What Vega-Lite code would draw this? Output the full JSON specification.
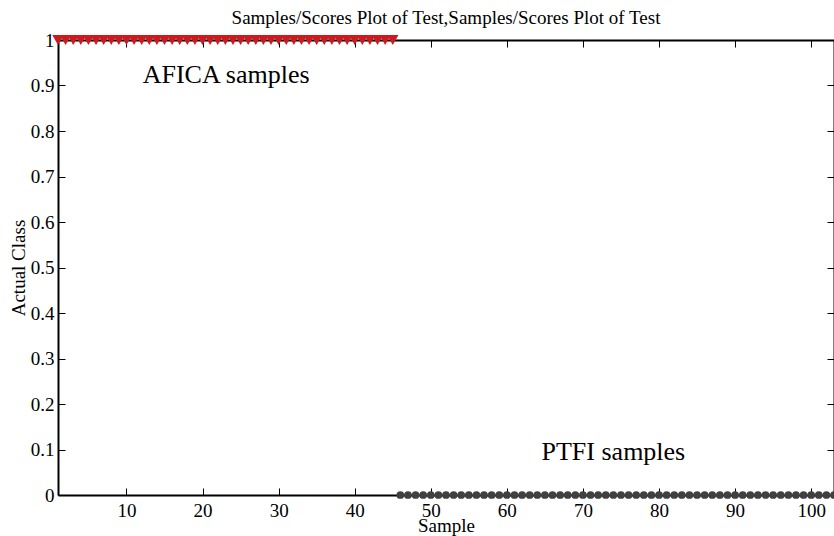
{
  "$schema": "https://vega.github.io/schema/vega-lite/v6.json",
  "width": 776,
  "height": 455,
  "autosize": "none",
  "padding": {"left": 58, "top": 40, "right": 0, "bottom": 41},
  "background": "white",
  "config": {
    "font": "Liberation Serif",
    "view": {"stroke": null},
    "axis": {"domainColor": "black", "domainWidth": 2, "tickColor": "black", "grid": false, "labelFont": "Liberation Serif", "titleFont": "Liberation Serif", "labelColor": "black", "titleColor": "black", "labelFontSize": 19, "titleFontSize": 19, "titleFontWeight": "normal", "tickSize": -7, "tickWidth": 1}
  },
  "title": {"text": "Samples/Scores Plot of Test,Samples/Scores Plot of Test", "font": "Liberation Serif", "fontSize": 19, "fontWeight": "normal", "color": "black", "offset": 3, "anchor": "middle"},
  "datasets": {
    "pts": [
      {"sample": 1, "cls": 1, "group": "AFICA"}, {"sample": 2, "cls": 1, "group": "AFICA"}, {"sample": 3, "cls": 1, "group": "AFICA"}, {"sample": 4, "cls": 1, "group": "AFICA"}, {"sample": 5, "cls": 1, "group": "AFICA"},
      {"sample": 6, "cls": 1, "group": "AFICA"}, {"sample": 7, "cls": 1, "group": "AFICA"}, {"sample": 8, "cls": 1, "group": "AFICA"}, {"sample": 9, "cls": 1, "group": "AFICA"}, {"sample": 10, "cls": 1, "group": "AFICA"},
      {"sample": 11, "cls": 1, "group": "AFICA"}, {"sample": 12, "cls": 1, "group": "AFICA"}, {"sample": 13, "cls": 1, "group": "AFICA"}, {"sample": 14, "cls": 1, "group": "AFICA"}, {"sample": 15, "cls": 1, "group": "AFICA"},
      {"sample": 16, "cls": 1, "group": "AFICA"}, {"sample": 17, "cls": 1, "group": "AFICA"}, {"sample": 18, "cls": 1, "group": "AFICA"}, {"sample": 19, "cls": 1, "group": "AFICA"}, {"sample": 20, "cls": 1, "group": "AFICA"},
      {"sample": 21, "cls": 1, "group": "AFICA"}, {"sample": 22, "cls": 1, "group": "AFICA"}, {"sample": 23, "cls": 1, "group": "AFICA"}, {"sample": 24, "cls": 1, "group": "AFICA"}, {"sample": 25, "cls": 1, "group": "AFICA"},
      {"sample": 26, "cls": 1, "group": "AFICA"}, {"sample": 27, "cls": 1, "group": "AFICA"}, {"sample": 28, "cls": 1, "group": "AFICA"}, {"sample": 29, "cls": 1, "group": "AFICA"}, {"sample": 30, "cls": 1, "group": "AFICA"},
      {"sample": 31, "cls": 1, "group": "AFICA"}, {"sample": 32, "cls": 1, "group": "AFICA"}, {"sample": 33, "cls": 1, "group": "AFICA"}, {"sample": 34, "cls": 1, "group": "AFICA"}, {"sample": 35, "cls": 1, "group": "AFICA"},
      {"sample": 36, "cls": 1, "group": "AFICA"}, {"sample": 37, "cls": 1, "group": "AFICA"}, {"sample": 38, "cls": 1, "group": "AFICA"}, {"sample": 39, "cls": 1, "group": "AFICA"}, {"sample": 40, "cls": 1, "group": "AFICA"},
      {"sample": 41, "cls": 1, "group": "AFICA"}, {"sample": 42, "cls": 1, "group": "AFICA"}, {"sample": 43, "cls": 1, "group": "AFICA"}, {"sample": 44, "cls": 1, "group": "AFICA"}, {"sample": 45, "cls": 1, "group": "AFICA"},
      {"sample": 46, "cls": 0, "group": "PTFI"}, {"sample": 47, "cls": 0, "group": "PTFI"}, {"sample": 48, "cls": 0, "group": "PTFI"}, {"sample": 49, "cls": 0, "group": "PTFI"}, {"sample": 50, "cls": 0, "group": "PTFI"},
      {"sample": 51, "cls": 0, "group": "PTFI"}, {"sample": 52, "cls": 0, "group": "PTFI"}, {"sample": 53, "cls": 0, "group": "PTFI"}, {"sample": 54, "cls": 0, "group": "PTFI"}, {"sample": 55, "cls": 0, "group": "PTFI"},
      {"sample": 56, "cls": 0, "group": "PTFI"}, {"sample": 57, "cls": 0, "group": "PTFI"}, {"sample": 58, "cls": 0, "group": "PTFI"}, {"sample": 59, "cls": 0, "group": "PTFI"}, {"sample": 60, "cls": 0, "group": "PTFI"},
      {"sample": 61, "cls": 0, "group": "PTFI"}, {"sample": 62, "cls": 0, "group": "PTFI"}, {"sample": 63, "cls": 0, "group": "PTFI"}, {"sample": 64, "cls": 0, "group": "PTFI"}, {"sample": 65, "cls": 0, "group": "PTFI"},
      {"sample": 66, "cls": 0, "group": "PTFI"}, {"sample": 67, "cls": 0, "group": "PTFI"}, {"sample": 68, "cls": 0, "group": "PTFI"}, {"sample": 69, "cls": 0, "group": "PTFI"}, {"sample": 70, "cls": 0, "group": "PTFI"},
      {"sample": 71, "cls": 0, "group": "PTFI"}, {"sample": 72, "cls": 0, "group": "PTFI"}, {"sample": 73, "cls": 0, "group": "PTFI"}, {"sample": 74, "cls": 0, "group": "PTFI"}, {"sample": 75, "cls": 0, "group": "PTFI"},
      {"sample": 76, "cls": 0, "group": "PTFI"}, {"sample": 77, "cls": 0, "group": "PTFI"}, {"sample": 78, "cls": 0, "group": "PTFI"}, {"sample": 79, "cls": 0, "group": "PTFI"}, {"sample": 80, "cls": 0, "group": "PTFI"},
      {"sample": 81, "cls": 0, "group": "PTFI"}, {"sample": 82, "cls": 0, "group": "PTFI"}, {"sample": 83, "cls": 0, "group": "PTFI"}, {"sample": 84, "cls": 0, "group": "PTFI"}, {"sample": 85, "cls": 0, "group": "PTFI"},
      {"sample": 86, "cls": 0, "group": "PTFI"}, {"sample": 87, "cls": 0, "group": "PTFI"}, {"sample": 88, "cls": 0, "group": "PTFI"}, {"sample": 89, "cls": 0, "group": "PTFI"}, {"sample": 90, "cls": 0, "group": "PTFI"},
      {"sample": 91, "cls": 0, "group": "PTFI"}, {"sample": 92, "cls": 0, "group": "PTFI"}, {"sample": 93, "cls": 0, "group": "PTFI"}, {"sample": 94, "cls": 0, "group": "PTFI"}, {"sample": 95, "cls": 0, "group": "PTFI"},
      {"sample": 96, "cls": 0, "group": "PTFI"}, {"sample": 97, "cls": 0, "group": "PTFI"}, {"sample": 98, "cls": 0, "group": "PTFI"}, {"sample": 99, "cls": 0, "group": "PTFI"}, {"sample": 100, "cls": 0, "group": "PTFI"},
      {"sample": 101, "cls": 0, "group": "PTFI"}, {"sample": 102, "cls": 0, "group": "PTFI"}, {"sample": 103, "cls": 0, "group": "PTFI"}
    ],
    "notes": [
      {"sample": 23.1, "cls": 0.923, "label": "AFICA samples", "size": 26},
      {"sample": 74, "cls": 0.094, "label": "PTFI samples", "size": 26}
    ]
  },
  "resolve": {"axis": {"x": "independent", "y": "independent"}},
  "layer": [
    {
      "data": {"name": "pts"},
      "transform": [{"filter": "datum.group === 'PTFI'"}],
      "mark": {"type": "point", "shape": "circle", "filled": true, "size": 60, "color": "#404040", "opacity": 1, "clip": false},
      "encoding": {
        "x": {"field": "sample", "type": "quantitative", "scale": {"domain": [1, 103], "nice": false, "zero": false},
          "axis": {"orient": "bottom", "values": [10, 20, 30, 40, 50, 60, 70, 80, 90, 100], "title": "Sample", "labelPadding": 13, "titlePadding": -4, "labelFlush": false, "zindex": 0}},
        "y": {"field": "cls", "type": "quantitative", "scale": {"domain": [0, 1], "nice": false},
          "axis": {"orient": "left", "values": [0, 0.1, 0.2, 0.3, 0.4, 0.5, 0.6, 0.7, 0.8, 0.9, 1], "format": ".1~f", "title": "Actual Class", "labelPadding": 11, "titlePadding": 2, "labelFlush": false, "zindex": 0}}
      }
    },
    {
      "data": {"name": "pts"},
      "transform": [{"filter": "datum.group === 'AFICA'"}],
      "mark": {"type": "point", "shape": "triangle-down", "filled": true, "size": 130, "color": "#cc1a1f", "opacity": 1, "clip": false},
      "encoding": {
        "x": {"field": "sample", "type": "quantitative", "scale": {"domain": [1, 103], "nice": false, "zero": false},
          "axis": {"orient": "top", "values": [10, 20, 30, 40, 50, 60, 70, 80, 90, 100], "labels": false, "title": null, "zindex": 0}},
        "y": {"field": "cls", "type": "quantitative", "scale": {"domain": [0, 1], "nice": false},
          "axis": {"orient": "right", "values": [0, 0.1, 0.2, 0.3, 0.4, 0.5, 0.6, 0.7, 0.8, 0.9, 1], "labels": false, "title": null, "zindex": 0}}
      }
    },
    {
      "data": {"name": "notes"},
      "mark": {"type": "text", "font": "Liberation Serif", "color": "black", "align": "center", "baseline": "middle"},
      "encoding": {
        "x": {"field": "sample", "type": "quantitative", "scale": {"domain": [1, 103], "nice": false, "zero": false}, "axis": null},
        "y": {"field": "cls", "type": "quantitative", "scale": {"domain": [0, 1], "nice": false}, "axis": null},
        "text": {"field": "label"},
        "size": {"field": "size", "type": "quantitative", "scale": null, "legend": null}
      }
    }
  ]
}
